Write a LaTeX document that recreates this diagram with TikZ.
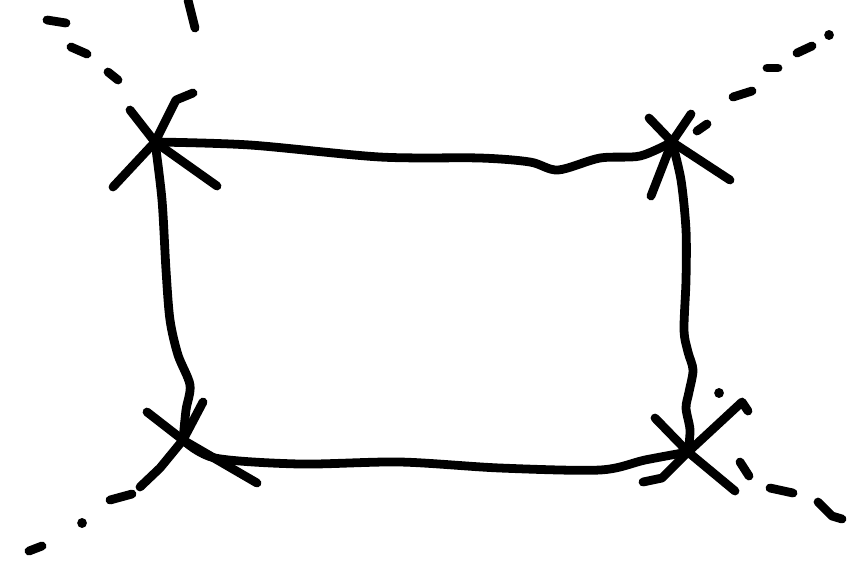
\documentclass[tikz,border=0pt]{standalone}
\usetikzlibrary{calc}

\begin{document}
\begin{tikzpicture}[
  x=0.02cm, y=-0.02cm,
  pen/.style={line width=5pt, line cap=round, line join=round},
  dot/.style={line width=5.5pt, line cap=round}
]
  \useasboundingbox (0,0) rectangle (851,566);

  % corners of the sketched box
  \coordinate (tl) at (155,142);
  \coordinate (tr) at (672,142);
  \coordinate (br) at (688,452);
  \coordinate (bl) at (183,440);

  % wobbly edges
  \draw[pen] plot[smooth, tension=0.5] coordinates {(tl) (250,145) (380,157) (480,158) (530,162) (558,170) (600,158) (640,156) (tr)};
  \draw[pen] plot[smooth, tension=0.5] coordinates {(tr) (681,180) (686,230) (686,280) (684,330) (688,352) (693,370) (689,392) (686,408) (690,430) (br)};
  \draw[pen] plot[smooth, tension=0.5] coordinates {(br) (645,460) (600,470) (500,468) (400,462) (300,464) (215,458) (bl)};
  \draw[pen] plot[smooth, tension=0.5] coordinates {(bl) (186,410) (190,385) (178,355) (170,320) (166,270) (162,200) (tl)};

  % crosses at the corners
  \draw[pen] (130,110) -- (tl) -- (217,186);
  \draw[pen] (113,187) -- (tl) -- (176,100) -- (193,93);
  \draw[pen] (649,118) -- (tr) -- (730,180);
  \draw[pen] (651,196) -- (tr) -- (691,114);
  \draw[pen] (697,131) -- (707,124);
  \draw[pen] (655,418) -- (br) -- (735,491);
  \draw[pen] (643,482) -- (662,478) -- (br) -- (742,402) -- (748,411);
  \draw[pen] (147,412) -- (bl) -- (257,483);
  \draw[pen] (140,487) -- (160,468) -- (bl) -- (203,402);

  % dashed lines running off the corners
  \draw[pen] (47,20) -- (66,23);
  \draw[pen] (71,47) -- (87,54);
  \draw[pen] (108,72) -- (118,80);
  \draw[pen] (188,0) -- (195,28);
  \draw[pen] (733,97) -- (752,91);
  \draw[pen] (767,68) -- (778,68);
  \draw[pen] (797,53) -- (812,46);
  \draw[dot] (829,35) -- (829.1,35);
  \draw[dot] (719,393) -- (719.1,393);
  \draw[pen] (740,462) -- (749,476);
  \draw[pen] (770,488) -- (793,493);
  \draw[pen] (818,502) -- (832,516) -- (842,519);
  \draw[pen] (110,500) -- (132,494);
  \draw[dot] (82,523) -- (82.1,523);
  \draw[pen] (29,551) -- (42,546);
\end{tikzpicture}
\end{document}
